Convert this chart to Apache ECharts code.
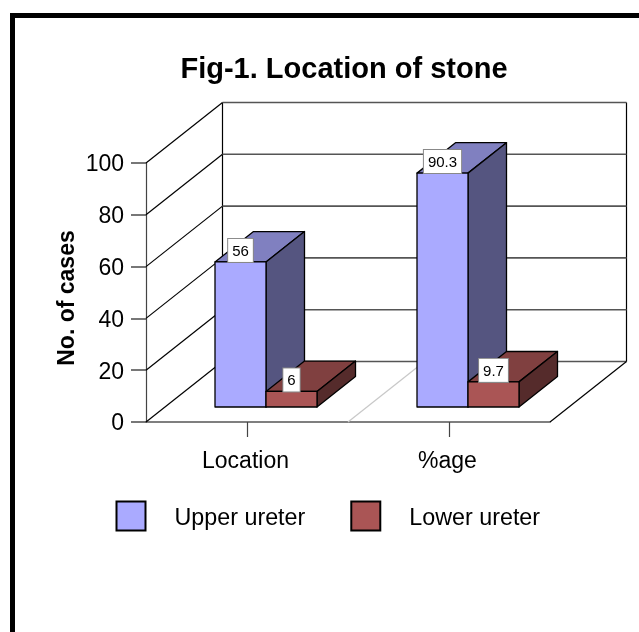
<!DOCTYPE html>
<html>
<head>
<meta charset="utf-8">
<title>Location of stone</title>
<style>
html, body { margin: 0; padding: 0; background: #fff; }
#main { width: 639px; height: 632px; }
</style>
<script src="https://cdn.jsdelivr.net/npm/echarts@6/dist/echarts.min.js"></script>
</head>
<body>
<div id="main"></div>
<script>
var myChart = echarts.init(document.getElementById('main'));

var categories = ['Location', '%age'];
var upperUreter = [56, 90.3];
var lowerUreter = [6, 9.7];
var yTicks = [0, 20, 40, 60, 80, 100];

var FONT = '"Liberation Sans", Arial, sans-serif';

// fake 3d: how far the back wall sits from the axis plane, in pixels
var WALL_DX = 76.5, WALL_DY = -60.5;
var BAR_DX = 19, BAR_DY = -15;
var BAR_DEPTH_X = 38.5, BAR_DEPTH_Y = -30.4;
var BAR_WIDTH = 51;

function line(x1, y1, x2, y2, color, width) {
    return {
        type: 'line',
        shape: { x1: x1, y1: y1, x2: x2, y2: y2 },
        style: { stroke: color, lineWidth: width || 1.2 }
    };
}

function renderWall(params, api) {
    var cs = params.coordSys;
    var p = api.coord([0, api.value(0)]);
    var x0 = cs.x, y = p[1];
    var right = cs.x + cs.width + WALL_DX;
    var children = [
        line(x0, y, x0 + WALL_DX, y + WALL_DY, '#000'),
        line(x0 + WALL_DX, y + WALL_DY, right, y + WALL_DY, '#555', 1.6)
    ];
    // the frame lines only need drawing once
    if (params.dataIndex === 0) {
        var topY = cs.y + WALL_DY;
        var midX = cs.x + cs.width / 2;
        children.push(line(x0 + WALL_DX, topY, x0 + WALL_DX, y + WALL_DY, '#000'));
        children.push(line(right, topY, right, y + WALL_DY, '#000'));
        children.push(line(cs.x + cs.width, y, right, y + WALL_DY, '#000'));
        children.push(line(midX, y, midX + WALL_DX, y + WALL_DY, '#c8c8c8'));
    }
    return { type: 'group', children: children };
}

function poly(points, color) {
    return {
        type: 'polygon',
        shape: { points: points },
        style: { fill: color, stroke: '#000', lineWidth: 1.3, lineJoin: 'round' }
    };
}

function barRenderer(side, front, top, right) {
    return function (params, api) {
        var value = api.value(1);
        var pTop = api.coord([api.value(0), value]);
        var pBase = api.coord([api.value(0), 0]);
        var x1 = pTop[0] + BAR_DX + (side < 0 ? -BAR_WIDTH : 0);
        var x2 = x1 + BAR_WIDTH;
        var yT = pTop[1] + BAR_DY;
        var yB = pBase[1] + BAR_DY;
        var dx = BAR_DEPTH_X, dy = BAR_DEPTH_Y;
        return {
            type: 'group',
            children: [
                poly([[x1, yT], [x2, yT], [x2 + dx, yT + dy], [x1 + dx, yT + dy]], top),
                poly([[x2, yT], [x2 + dx, yT + dy], [x2 + dx, yB + dy], [x2, yB]], right),
                poly([[x1, yT], [x2, yT], [x2, yB], [x1, yB]], front),
                {
                    type: 'text',
                    z2: 10,
                    style: {
                        x: (x1 + x2) / 2,
                        y: yT,
                        text: String(value),
                        align: 'center',
                        verticalAlign: 'bottom',
                        font: '15px ' + FONT,
                        fill: '#000',
                        backgroundColor: '#fff',
                        borderColor: '#888',
                        borderWidth: 1,
                        padding: [5, 4, 3, 4]
                    }
                }
            ]
        };
    };
}

function pairs(values) {
    return values.map(function (v, i) { return [i, v]; });
}

var option = {
    animation: false,
    backgroundColor: '#fff',
    title: {
        text: 'Fig-1. Location of stone',
        left: 339,
        top: 50,
        textAlign: 'center',
        textStyle: { fontFamily: FONT, fontSize: 29, fontWeight: 'bold', color: '#000' }
    },
    legend: {
        left: 110.5,
        top: 495.5,
        itemWidth: 29,
        itemHeight: 29,
        itemGap: 45,
        icon: 'rect',
        data: ['Upper ureter', 'Lower ureter'],
        formatter: '{t|{name}}',
        textStyle: {
            rich: {
                t: {
                    fontFamily: FONT,
                    fontSize: 23.3,
                    color: '#000',
                    padding: [6, 0, 0, 24]
                }
            }
        }
    },
    grid: { left: 146, top: 163, width: 404, height: 259, containLabel: false },
    xAxis: {
        type: 'category',
        data: categories,
        boundaryGap: true,
        axisLine: { lineStyle: { color: '#555', width: 1.6 } },
        axisTick: { show: true, alignWithLabel: true, length: 15, lineStyle: { color: '#444', width: 1.2 } },
        axisLabel: { margin: 28, padding: [0, 3, 0, 0], fontFamily: FONT, fontSize: 23, color: '#000' }
    },
    yAxis: {
        type: 'value',
        min: yTicks[0],
        max: yTicks[yTicks.length - 1],
        interval: 20,
        name: 'No. of cases',
        nameLocation: 'middle',
        nameGap: 67,
        nameMoveOverlap: false,
        nameTextStyle: { fontFamily: FONT, fontSize: 23, fontWeight: 'bold', color: '#000', padding: [0, 11, 0, 0] },
        axisLine: { show: true, lineStyle: { color: '#444', width: 1.2 } },
        axisTick: { show: true, length: 15, lineStyle: { color: '#555', width: 1.6 } },
        axisLabel: {
            margin: 22,
            formatter: '{t|{value}}',
            rich: { t: { fontFamily: FONT, fontSize: 23, color: '#000', padding: [4, 0, 0, 0] } }
        },
        splitLine: { show: false }
    },
    graphic: [
        { type: 'rect', shape: { x: 10, y: 13, width: 5, height: 619 }, style: { fill: '#000' } },
        { type: 'rect', shape: { x: 10, y: 13, width: 629, height: 5 }, style: { fill: '#000' } }
    ],
    series: [
        {
            name: 'walls',
            type: 'custom',
            z: 1,
            silent: true,
            renderItem: renderWall,
            data: yTicks.map(function (t) { return [t]; }),
            encode: { y: 0 }
        },
        {
            name: 'Upper ureter',
            type: 'custom',
            z: 3,
            renderItem: barRenderer(-1, '#aaaaff', '#8080c0', '#555580'),
            itemStyle: { color: '#aaaaff', borderColor: '#000', borderWidth: 0.6 },
            data: pairs(upperUreter),
            encode: { x: 0, y: 1 }
        },
        {
            name: 'Lower ureter',
            type: 'custom',
            z: 3,
            renderItem: barRenderer(1, '#aa5555', '#804040', '#552b2b'),
            itemStyle: { color: '#aa5555', borderColor: '#000', borderWidth: 0.6 },
            data: pairs(lowerUreter),
            encode: { x: 0, y: 1 }
        }
    ]
};

myChart.setOption(option);
</script>
</body>
</html>
